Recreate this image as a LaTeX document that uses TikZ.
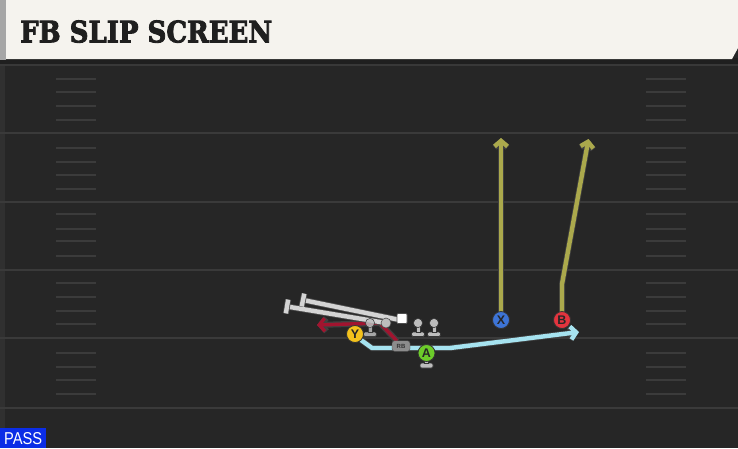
\documentclass[tikz,border=0pt]{standalone}
\usepackage{fontspec}
\setmainfont{DejaVu Sans}
\newfontfamily\titlefont{DejaVu Serif}[BoldFeatures={FakeBold=3}]
\newfontfamily\lsans{Liberation Sans}
\usetikzlibrary{arrows.meta,calc}
\definecolor{fieldbg}{HTML}{262626}
\definecolor{headbg}{HTML}{F5F3EE}
\definecolor{yardc}{HTML}{3A3A3A}
\definecolor{hashc}{HTML}{3B3B3B}
\definecolor{olive}{HTML}{ABA94C}
\definecolor{cyanr}{HTML}{A6E3F0}
\definecolor{redr}{HTML}{A1142F}
\definecolor{yel}{HTML}{F4C21C}
\definecolor{grn}{HTML}{6CCB2A}
\definecolor{blu}{HTML}{3D74D6}
\definecolor{redp}{HTML}{E2343E}
\definecolor{lmgrey}{HTML}{BDBDBD}
\definecolor{blockgrey}{HTML}{D4D4D4}
\definecolor{passblue}{HTML}{0B2DE6}
\definecolor{sidec}{HTML}{303030}
\tikzset{
  yard/.style={draw=yardc, line width=2.2pt},
  hash/.style={draw=hashc, line width=1.8pt},
  route/.style={line width=4.4pt, line join=round, preaction={draw=black!75, line width=6pt}},
  tip/.style={-{Straight Barb[length=5.5pt,width=13pt]}},
  player/.style={circle, draw=black!80, line width=0.8pt, minimum size=17pt, inner sep=0pt,
    font=\lsans\bfseries\fontsize{12.5}{12.5}\selectfont, text=black!85},
  rbbox/.style={draw=black!70, fill=black!45, rounded corners=2.5pt, minimum width=18pt,
    minimum height=10.5pt, inner sep=0pt, font=\lsans\bfseries\fontsize{6}{6}\selectfont, text=black!80},
  blockline/.style={draw=blockgrey, line width=4.4pt, preaction={draw=black!70, line width=6pt}},
  pics/lineman/.style={code={
    \fill[draw=black!80, fill=lmgrey, line width=0.6pt, rounded corners=1.5pt] (-6.5,9) rectangle (6.5,13.5);
    \fill[draw=black!80, fill=lmgrey, line width=0.6pt] (-2.2,2) rectangle (2.2,9.4);
    \fill[draw=black!80, fill=lmgrey, line width=0.6pt] (0,0) circle (4.6);
  }},
}
\begin{document}
\begin{tikzpicture}[x=1pt,y=-1pt]
\useasboundingbox (0,0) rectangle (738,448);
\fill[fieldbg] (0,0) rectangle (738,448);
\fill[sidec] (0,60) rectangle (5,448);
% header
\fill[black!88] (0,58) rectangle (738,64);
\draw[black!78, line width=1.2pt] (0,65) -- (738,65);
\fill[black!35] (0,0) rectangle (6,60);
\fill[headbg] (6,0) -- (738,0) -- (738,48) -- (732,59) -- (6,59) -- cycle;
\node[anchor=south west, inner sep=0pt, text=black!88] (title) at (20,43)
  {\resizebox{252pt}{22pt}{\titlefont\bfseries FB SLIP SCREEN}};
% yard lines
\foreach \yy in {133,202,270,338,408} \draw[yard] (0,\yy) -- (738,\yy);
% hashes
\foreach \yy in {79,92,106,120,148,162,175,189,214,229,241,256,283,297,311,324,353,367,380,394}{
  \draw[hash] (56,\yy) -- (96,\yy);
  \draw[hash] (646,\yy) -- (686,\yy);
}
% players positions
\coordinate (Ypos) at (355,334);
\coordinate (Apos) at (426.5,353);
\coordinate (Xpos) at (501,320);
\coordinate (Bpos) at (562,320);
\coordinate (RBpos) at (401,346);
% routes
\coordinate (redA) at (397,341);
\coordinate (redB) at (380,323);
\coordinate (redT) at (317,325);
\draw[route, draw=redr, line width=3.4pt, preaction={draw=black!75, line width=4.8pt}, tip] (redA) -- (redB) -- (redT);
\coordinate (cyA) at (361,340);
\coordinate (cyB) at (372,348);
\coordinate (cyC) at (450,348);
\coordinate (cyT) at (579,332);
\draw[route, draw=cyanr, tip] (cyA) -- (cyB) -- (cyC) -- (cyT);
\coordinate (xT) at (501,138);
\draw[route, draw=olive, tip] (Xpos) -- (xT);
\coordinate (bA) at (562,284);
\coordinate (bT) at (588.5,139);
\draw[route, draw=olive, tip] (Bpos) -- (bA) -- (bT);
% block lines
\coordinate (bl1s) at (287,306.5);
\coordinate (bl1e) at (386,323);
\coordinate (bl2s) at (303,300);
\coordinate (bl2e) at (400,320);
\draw[blockline] (bl1s) -- (bl1e);
\draw[blockline] ($(bl1s)!7pt!90:(bl1e)$) -- ($(bl1s)!7pt!-90:(bl1e)$);
\draw[blockline] (bl2s) -- (bl2e);
\draw[blockline] ($(bl2s)!6.5pt!90:(bl2e)$) -- ($(bl2s)!6.5pt!-90:(bl2e)$);
\node[circle, fill=lmgrey, draw=black!70, line width=0.6pt, minimum size=10pt, inner sep=0pt] (qbc) at (bl1e) {};
\node[fill=white, draw=black!70, line width=0.6pt, rounded corners=1pt, minimum size=10pt, inner sep=0pt] (sq) at (402,318.5) {};
% linemen
\pic[opacity=0.85] at (370,323) {lineman};
\pic at (418,323) {lineman};
\pic at (434,323) {lineman};
% A stand
\fill[draw=black!80, fill=lmgrey, line width=0.6pt, rounded corners=1.5pt] (420,363) rectangle (433,368);
\fill[draw=black!80, fill=lmgrey, line width=0.6pt] (424.3,358) rectangle (428.7,363.5);
% players
\node[rbbox] (RB) at (RBpos) {RB};
\node[player, fill=yel] (Y) at (Ypos) {Y};
\node[player, fill=grn] (A) at (Apos) {A};
\node[player, fill=blu] (X) at (Xpos) {X};
\node[player, fill=redp] (B) at (Bpos) {B};
% PASS
\fill[passblue] (0,428) rectangle (46,448);
\node[anchor=south west, inner sep=0pt, text=white] (pass) at (4,445)
  {\resizebox{38pt}{12pt}{\lsans PASS}};
\end{tikzpicture}
\end{document}
